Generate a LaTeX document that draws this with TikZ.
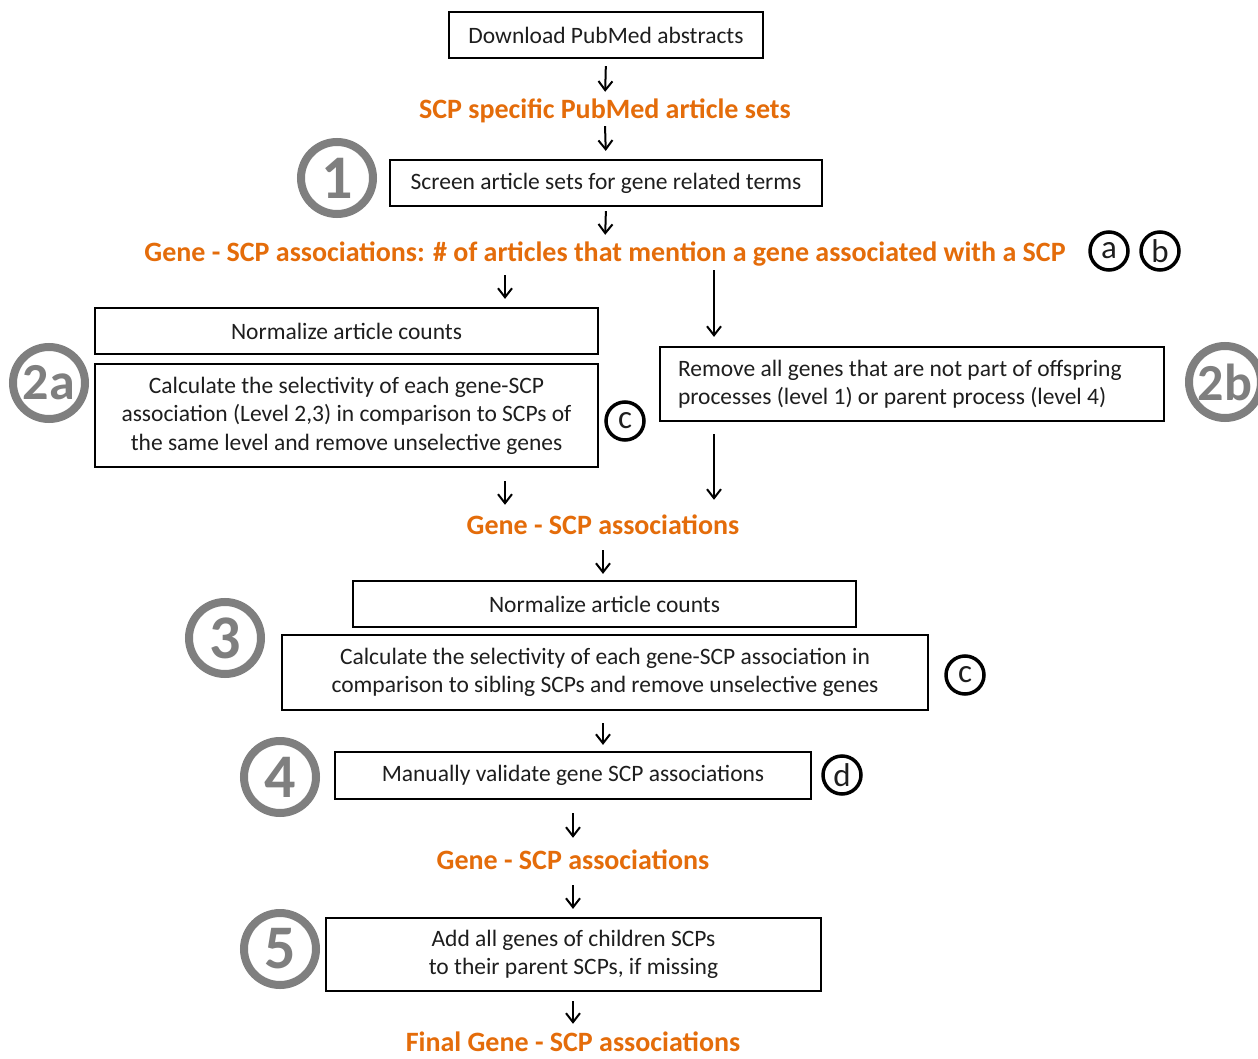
\documentclass[tikz,border=0pt]{standalone}
\usepackage{fontspec}
\setmainfont{Carlito}
\usetikzlibrary{arrows.meta}
\definecolor{orng}{HTML}{E46C0A}
\definecolor{ringgray}{HTML}{7F7F7F}
\definecolor{txt}{HTML}{1E1E1E}
\begin{document}
\begin{tikzpicture}[x=1pt,y=-1pt,
  box/.style={draw=black,line width=2.2pt,inner sep=0pt,align=center,text=txt,
    font=\fontsize{23.5}{28.5}\selectfont},
  otext/.style={text=orng,inner sep=0pt,text height=20pt,text depth=6pt,
    font=\fontsize{28}{30}\selectfont\bfseries},
  ring/.style={circle,draw=ringgray,line width=8pt,minimum size=72pt,inner sep=0pt,
    text=ringgray,font=\fontsize{62}{62}\selectfont\bfseries},
  ringtwo/.style={ring,font=\fontsize{52}{52}\selectfont\bfseries},
  note/.style={circle,draw=black,line width=3.5pt,minimum size=38pt,inner sep=0pt,
    text=txt,font=\fontsize{33}{33}\selectfont},
  arr/.style={-{Straight Barb[length=9pt,width=14pt,line width=2pt]},line width=2pt,black}]
\useasboundingbox[fill=white] (0,0) rectangle (1258,1059);

% x positions for branch arrows
\coordinate (xL) at (505,0);
\coordinate (xR) at (714,0);
\coordinate (xM) at (603,0);

% boxes
\node[box,minimum width=314pt,minimum height=46pt] (dl) at (606,35) {Download PubMed abstracts};
\node[otext] (scp) at (605,112) {SCP specific PubMed article sets};
\node[box,minimum width=432pt,minimum height=46pt] (screen) at (606,183) {Screen article sets for gene related terms};
\node[otext] (gene1) at (605,255) {Gene - SCP associations: \# of articles that mention a gene associated with a SCP};
\node[box,minimum width=503pt,minimum height=46pt] (norm1) at (346.5,331) {Normalize article counts};
\node[box,minimum width=503pt,minimum height=103pt] (calc1) at (346.5,415.5) {Calculate the selectivity of each gene-SCP\\association (Level 2,3) in comparison to SCPs of\\the same level and remove unselective genes};
\node[box,minimum width=504pt,minimum height=74pt,text width=468pt,align=flush left] (remove) at (912,384) {Remove all genes that are not part of offspring\\processes (level 1) or parent process (level 4)};
\node[otext] (gene2) at (603,527) {Gene - SCP associations};
\node[box,minimum width=503pt,minimum height=46pt] (norm2) at (604.5,604) {Normalize article counts};
\node[box,minimum width=646pt,minimum height=75pt] (calc2) at (605,672.5) {Calculate the selectivity of each gene-SCP association in\\comparison to sibling SCPs and remove unselective genes};
\node[box,minimum width=476pt,minimum height=47pt] (manual) at (573,775.5) {Manually validate gene SCP associations};
\node[otext] (gene3) at (573,862) {Gene - SCP associations};
\node[box,minimum width=495pt,minimum height=73pt] (add) at (573.5,954.5) {Add all genes of children SCPs\\to their parent SCPs, if missing};
\node[otext] (final) at (573,1044) {Final Gene - SCP associations};

% step rings
\node[ring] (r1) at (337,178) {1};
\node[ringtwo] (r2a) at (49,383) {2a};
\node[ringtwo] (r2b) at (1225,382) {2b};
\node[ring] (r3) at (225,638) {3};
\node[ring] (r4) at (280,777) {4};
\node[ring] (r5) at (280,949) {5};

% note circles
\node[note] (na) at (1109,251) {a};
\node[note] (nb) at (1160,251) {b};
\node[note] (nc1) at (625,421) {c};
\node[note] (nc2) at (965,675) {c};
\node[note] (nd) at (842,775) {d};

% connectors
\draw[arr,shorten <=7pt,shorten >=7pt] (dl.south) -- (scp.north);
\draw[arr,shorten <=1pt,shorten >=8pt] (scp.south) -- (screen.north);
\draw[arr,shorten <=4pt,shorten >=7pt] (screen.south) -- (gene1.north);
\draw[arr,shorten <=7pt,shorten >=8pt] (gene1.south -| xL) -- (norm1.north -| xL);
\draw[arr,shorten <=2pt,shorten >=9pt] (gene1.south -| xR) -- (remove.north -| xR);
\draw[arr,shorten <=13pt,shorten >=9pt] (calc1.south -| xL) -- (gene2.north -| xL);
\draw[arr,shorten <=12pt,shorten >=14pt] (remove.south -| xR) -- (gene2.north -| xR);
\draw[arr,shorten <=10pt,shorten >=6pt] (gene2.south) -- (norm2.north -| gene2.south);
\draw[arr,shorten <=12pt,shorten >=6pt] (calc2.south -| xM) -- (manual.north -| xM);
\draw[arr,shorten <=13pt,shorten >=11pt] (manual.south -| gene3.north) -- (gene3.north);
\draw[arr,shorten <=10pt,shorten >=8pt] (gene3.south) -- (add.north -| gene3.south);
\draw[arr,shorten <=9pt,shorten >=7pt] (add.south -| final.north) -- (final.north);
\end{tikzpicture}
\end{document}
